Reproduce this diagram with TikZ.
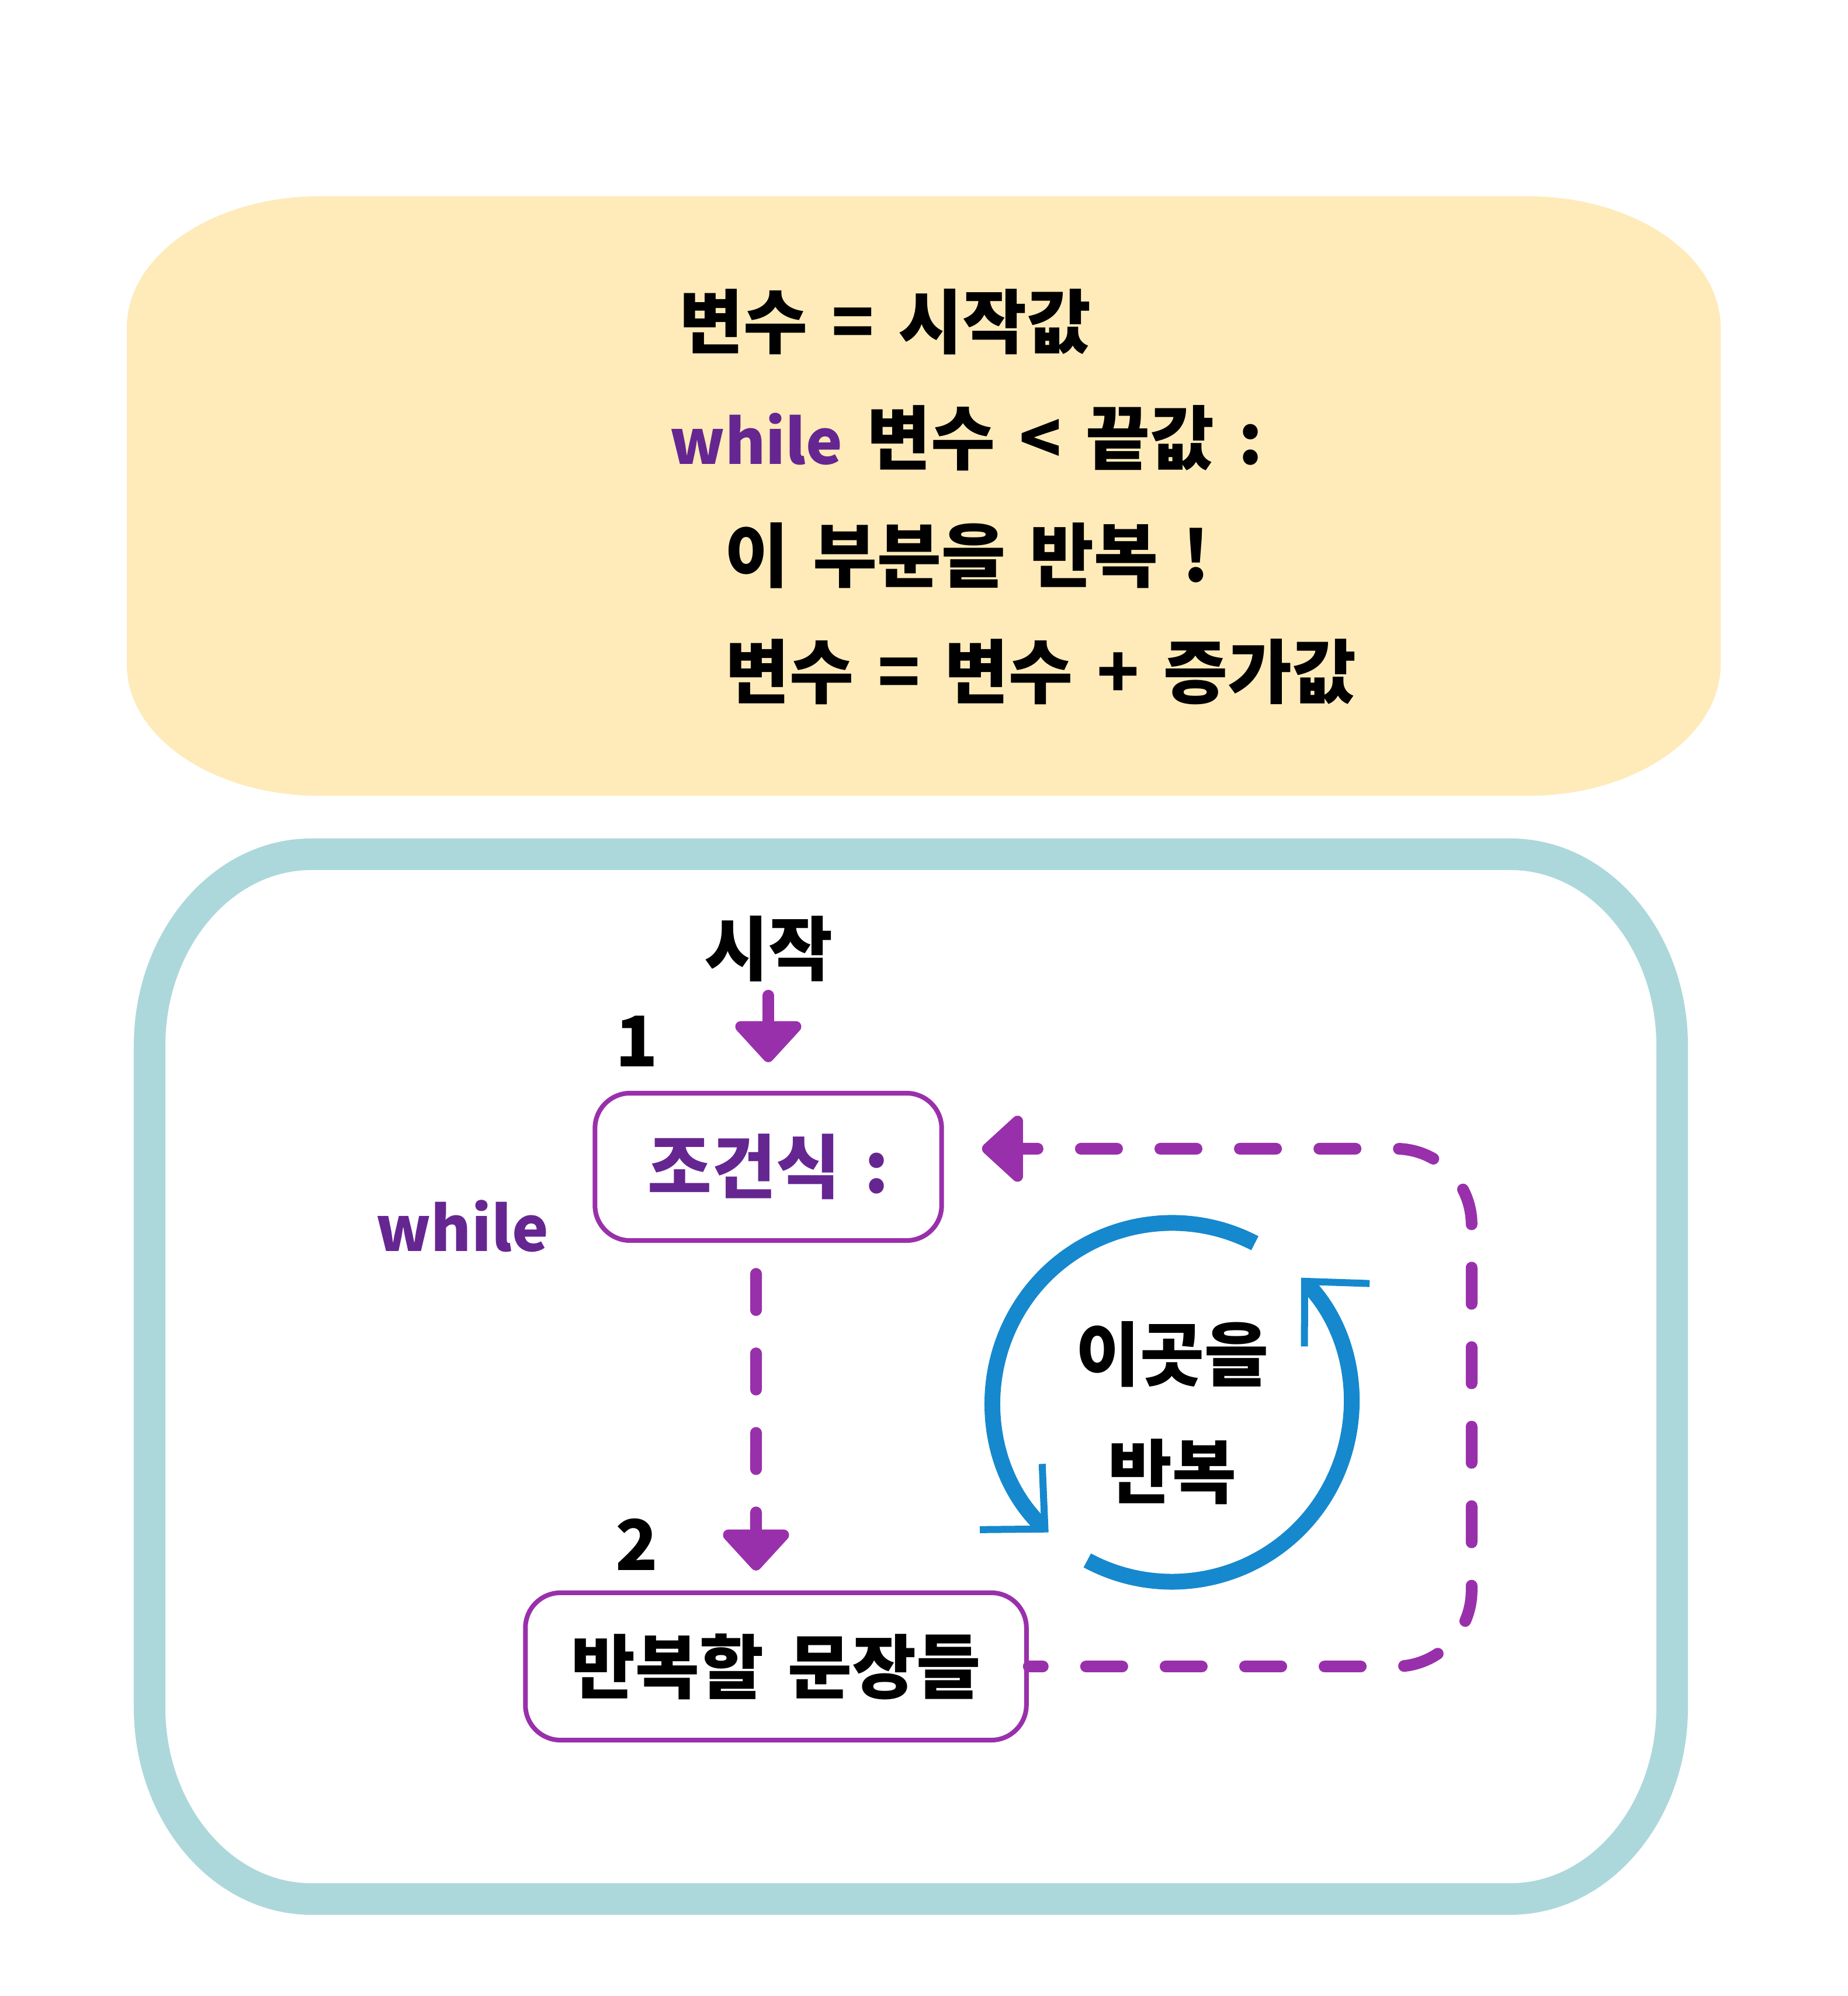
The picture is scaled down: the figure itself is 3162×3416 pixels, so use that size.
\documentclass[tikz,border=0pt]{standalone}
\usepackage{fontspec}
\setmainfont{Noto Sans CJK KR}[WordSpace=1.5]
\usetikzlibrary{arrows.meta,positioning}

\definecolor{memoyellow}{RGB}{254,235,185}
\definecolor{frameteal}{RGB}{173,216,219}
\definecolor{linepurple}{RGB}{153,48,171}
\definecolor{wordpurple}{RGB}{102,38,145}
\definecolor{cycleblue}{RGB}{22,136,206}

\newcommand{\kw}[1]{{\fontsize{30}{36}\selectfont\textcolor{wordpurple}{#1}}}

\begin{document}
\begin{tikzpicture}[
  x=0.01cm, y=0.01cm,
  every node/.style={font=\fontsize{34}{40}\selectfont\bfseries, inner sep=0pt},
  codeline/.style={anchor=west},
  stepbox/.style={draw=linepurple, line width=0.08cm, rounded corners=0.6cm, fill=white, minimum height=2.52cm, align=center},
  flowarrow/.style={draw=linepurple, line width=0.2cm, line cap=round, -{Triangle[width=1.32cm, length=0.75cm, round]}},
  loopline/.style={flowarrow, dash pattern=on 0.62cm off 0.74cm},
  turn/.style={draw=cycleblue, line width=0.27cm, -{Straight Barb[length=0.8cm, width=1.55cm, line width=0.12cm]}}
]
\useasboundingbox (0,0) rectangle (3162,3416);

% code panel
\fill[memoyellow] (547,3080) -- (2615,3080)
  arc[start angle=90, end angle=0, x radius=330, y radius=225] -- (2945,2279)
  arc[start angle=0, end angle=-90, x radius=330, y radius=225] -- (547,2054)
  arc[start angle=270, end angle=180, x radius=330, y radius=225] -- (217,2855)
  arc[start angle=180, end angle=90, x radius=330, y radius=225] -- cycle;

\node[codeline] (init) at (1162,2865) {변수 = 시작값};
\node[codeline] (test) at (1146,2666) {\kw{while} 변수 < 끝값 :};
\node[codeline] (repeat) at (1240,2465) {이 부분을 반복 !};
\node[codeline] (incr) at (1241,2266) {변수 = 변수 + 증가값};

% flow panel
\draw[frameteal, line width=0.54cm] (533,1954) -- (2585,1954)
  arc[start angle=90, end angle=0, x radius=277, y radius=328] -- (2862,494)
  arc[start angle=0, end angle=-90, x radius=277, y radius=328] -- (533,166)
  arc[start angle=270, end angle=180, x radius=277, y radius=328] -- (256,1626)
  arc[start angle=180, end angle=90, x radius=277, y radius=328] -- cycle;

\node (start) at (1315,1792) {시작};
\node (one) at (1090,1634) {1};
\node[stepbox, minimum width=5.93cm, text=wordpurple] (cond) at (1315,1419) {조건식 :};
\node (while) at (791,1318) {\kw{while}};
\node (two) at (1090,773) {2};
\node[stepbox, minimum width=8.57cm] (body) at (1328,564) {반복할 문장들};

\draw[flowarrow, shorten <=0.8cm, shorten >=0.49cm] (start.center) -- (cond.north);
\draw[loopline, shorten <=0.53cm, shorten >=0.34cm] ([xshift=-0.21cm]cond.south) -- ([xshift=-0.34cm]body.north);
\draw[loopline, dash phase=0.38cm, rounded corners=1.3cm] (body.east) -- ++(758,0) |- ([xshift=0.65cm, yshift=0.31cm]cond.east);

% repeat cycle
\coordinate (turnc) at (2006,1016);
\node (here) at (2006,1098) {이곳을};
\node (again) at (2006,897) {반복};
\draw[turn] (turnc) ++(62.5:307) arc[start angle=62.5, end angle=226.5, radius=307];
\draw[turn] (turnc) ++(241.8:307) arc[start angle=241.8, end angle=404, radius=307];
\end{tikzpicture}
\end{document}
